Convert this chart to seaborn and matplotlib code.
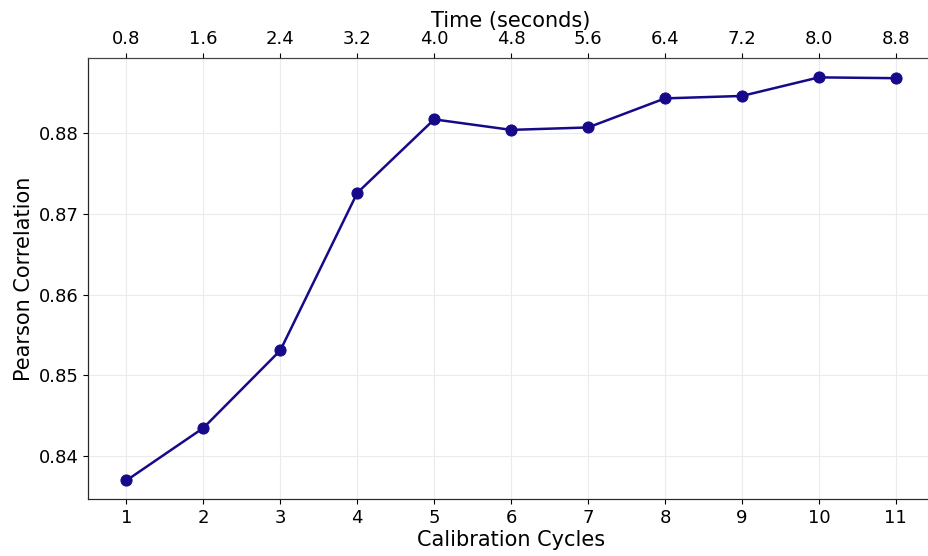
import numpy as np
import pandas as pd
import seaborn as sns
import matplotlib
matplotlib.use('Agg')
import matplotlib.pyplot as plt

# values
cycles = [1, 2, 3, 4, 5, 6, 7, 8, 9, 10, 11]
pearson = [0.8370, 0.8435, 0.8531, 0.8726, 0.8817, 0.8804, 0.8807, 0.8843, 0.8846, 0.8869, 0.8868]
time_labels = ['0.8', '1.6', '2.4', '3.2', '4.0', '4.8', '5.6', '6.4', '7.2', '8.0', '8.8']

df = pd.DataFrame({'Calibration Cycles': cycles, 'Pearson Correlation': pearson})

sns.set_style('ticks', {'text.color': 'black', 'axes.labelcolor': 'black',
                        'xtick.color': 'black', 'ytick.color': 'black'})
plt.rcParams['font.family'] = ['DejaVu Sans']

fig = plt.figure(figsize=(9.29, 5.56), dpi=100)
ax = fig.add_axes([0.0947, 0.1025, 0.911, 0.7932])

line_color = '#160a8a'
sns.lineplot(data=df, x='Calibration Cycles', y='Pearson Correlation', ax=ax,
             color=line_color, linewidth=1.8, marker='o', markersize=8,
             markeredgecolor=line_color)

ax.set_xlim(0.5, 11.5)
ax.set_ylim(0.8347, 0.8893)
ax.set_xticks(cycles)
ax.set_yticks([0.84, 0.85, 0.86, 0.87, 0.88])
ax.grid(True, color='#ebebeb', linewidth=0.8)
ax.tick_params(labelsize=13)
ax.set_xlabel('Calibration Cycles', fontsize=15, labelpad=2)
ax.set_ylabel('Pearson Correlation', fontsize=15, labelpad=3)
ax.spines['left'].set_color('#111111')
ax.spines['bottom'].set_color('#444444')

# secondary x axis with time
ax2 = ax.twiny()
ax2.set_xlim(ax.get_xlim())
ax2.set_xticks(cycles)
ax2.set_xticklabels(time_labels)
ax2.tick_params(labelsize=13)
ax2.set_xlabel('Time (seconds)', fontsize=15, labelpad=2)
ax2.spines['top'].set_color('#444444')
ax2.spines['right'].set_visible(False)
ax.spines['right'].set_visible(False)

fig.savefig('out.png', dpi=100)
